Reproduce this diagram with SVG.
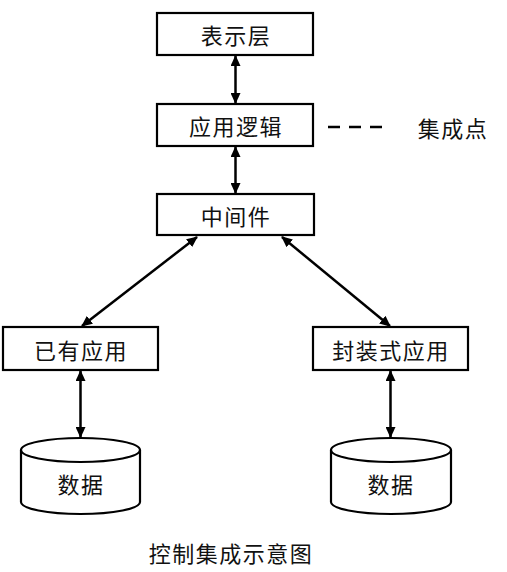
<svg xmlns="http://www.w3.org/2000/svg" width="507" height="572" viewBox="0 0 507 572">
<style>
.box{fill:#fff;stroke:#000;stroke-width:2.2}
.t{font-family:"Noto Sans CJK SC","Noto Sans",sans-serif;font-size:22px;fill:#111;text-anchor:middle;dominant-baseline:central;letter-spacing:1.5px}
.c{stroke:#000;stroke-width:2.5;fill:none}
</style>
<defs>
<marker id="ah" viewBox="0 0 11 10" refX="10" refY="5" markerWidth="11" markerHeight="10" markerUnits="userSpaceOnUse" orient="auto-start-reverse">
<path d="M0,0 L11,5 L0,10 z" fill="#000"/>
</marker>
</defs>
<rect width="507" height="572" fill="#fff"/>
<g id="connectors">
<line class="c" x1="235.5" y1="56" x2="235.5" y2="103" marker-start="url(#ah)" marker-end="url(#ah)"/>
<line class="c" x1="235.5" y1="147" x2="235.5" y2="193" marker-start="url(#ah)" marker-end="url(#ah)"/>
<line class="c" x1="197" y1="237" x2="82" y2="326" marker-start="url(#ah)" marker-end="url(#ah)"/>
<line class="c" x1="282" y1="237" x2="390" y2="326" marker-start="url(#ah)" marker-end="url(#ah)"/>
<line class="c" x1="80.5" y1="371" x2="80.5" y2="437" marker-start="url(#ah)" marker-end="url(#ah)"/>
<line class="c" x1="390.5" y1="371" x2="390.5" y2="437" marker-start="url(#ah)" marker-end="url(#ah)"/>
<line class="c" x1="328" y1="127" x2="382" y2="127" stroke-dasharray="12 9"/>
</g>
<g id="n1"><rect class="box" x="157" y="13" width="156" height="42"/><text class="t" x="236" y="34">表示层</text></g>
<g id="n2"><rect class="box" x="157" y="104" width="156" height="42"/><text class="t" x="236" y="125">应用逻辑</text></g>
<g id="n3"><rect class="box" x="157" y="194" width="157" height="41"/><text class="t" x="236" y="215">中间件</text></g>
<g id="n4"><rect class="box" x="3" y="327" width="155" height="43"/><text class="t" x="81" y="349">已有应用</text></g>
<g id="n5"><rect class="box" x="313" y="327" width="155" height="43"/><text class="t" x="391" y="349">封装式应用</text></g>
<g id="d1"><path class="box" d="M21,450 L21,502 A59.5,12 0 0 0 140,502 L140,450 A59.5,12 0 0 0 21,450 z"/><path class="box" style="fill:none" d="M21,450 A59.5,12 0 0 0 140,450"/><text class="t" x="81" y="483">数据</text></g>
<g id="d2"><path class="box" d="M331,450 L331,502 A60,12 0 0 0 451,502 L451,450 A60,12 0 0 0 331,450 z"/><path class="box" style="fill:none" d="M331,450 A60,12 0 0 0 451,450"/><text class="t" x="391" y="483">数据</text></g>
<g id="lbl"><text class="t" x="453" y="127">集成点</text></g>
<text class="t" x="231" y="552">控制集成示意图</text>
</svg>
